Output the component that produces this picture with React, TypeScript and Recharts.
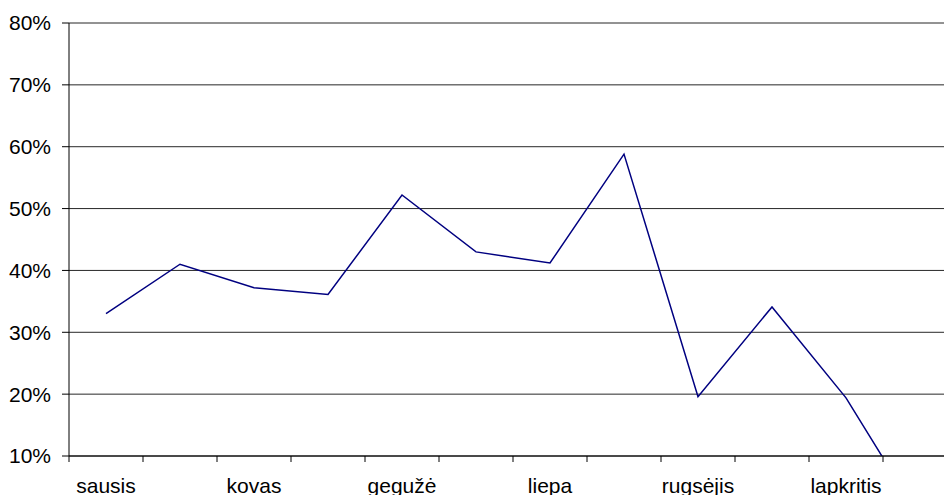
import { LineChart, Line, XAxis, YAxis, CartesianGrid } from "recharts";

const months = [
  "sausis",
  "vasaris",
  "kovas",
  "balandis",
  "gegužė",
  "birželis",
  "liepa",
  "rugpjūtis",
  "rugsėjis",
  "spalis",
  "lapkritis",
  "gruodis",
];
const shares = [33, 41, 37.2, 36.1, 52.2, 43, 41.2, 58.8, 19.6, 34.1, 19.4, 0];
const yTicks = [10, 20, 30, 40, 50, 60, 70, 80];

const data = months.map((m, i) => ({ x: i + 0.5, month: m, value: shares[i] }));
const xTicks = months.map((_, i) => i).concat(months.length);

// plot is 888px wide for 12 months
const HALF_BAND = 888 / months.length / 2;
const FONT = "'Liberation Sans', Arial, sans-serif";

function MonthTick(props: any) {
  const { x, y, payload } = props;
  const i = payload.value;
  if (i >= months.length || i % 2 !== 0) return null;
  return (
    <text x={x + HALF_BAND} y={y + 31} textAnchor="middle" fontSize={21} fontFamily={FONT} fill="#000">
      {months[i]}
    </text>
  );
}

export default function App() {
  return (
    <div style={{ position: "fixed", left: 0, top: 0, width: 944, height: 495, overflow: "hidden", background: "#fff" }}>
      <LineChart width={1000} height={495} data={data} margin={{ top: 23, right: 43, left: 9, bottom: 0 }}>
        <CartesianGrid horizontal vertical={false} stroke="#000" strokeOpacity={0.85} />
        <XAxis
          dataKey="x"
          type="number"
          domain={[0, months.length]}
          ticks={xTicks}
          height={39}
          tickSize={6}
          tickMargin={0}
          tickLine={{ stroke: "#000" }}
          axisLine={{ stroke: "#000" }}
          tick={<MonthTick />}
          interval={0}
        />
        <YAxis
          type="number"
          domain={[10, 80]}
          ticks={yTicks}
          allowDataOverflow
          width={60}
          tickSize={7}
          tickMargin={11}
          tickLine={{ stroke: "#000" }}
          axisLine={{ stroke: "#000" }}
          tickFormatter={(v: number) => `${v}%`}
          tick={{ fontSize: 21, fontFamily: FONT, fill: "#000" }}
        />
        <Line
          type="linear"
          dataKey="value"
          stroke="#000080"
          strokeWidth={1.5}
          dot={false}
          isAnimationActive={false}
        />
      </LineChart>
    </div>
  );
}
